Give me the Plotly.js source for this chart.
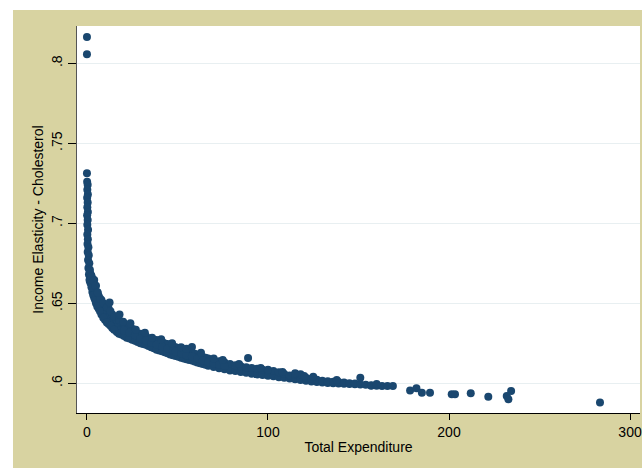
<!DOCTYPE html>
<html>
<head>
<meta charset="utf-8">
<script src="https://cdn.plot.ly/plotly-3.0.1.min.js"></script>
<style>
html,body{margin:0;padding:0;background:#fff;}
#chart{width:642px;height:468px;}
</style>
</head>
<body>
<div id="chart"></div>
<script>
// Total expenditure (x) values
const expenditure = [
  0.0, 0.0, 0.0,
  0.1, 0.4, 0.2, 0.5, 0.1, 0.4, 0.2, 0.5, 0.1, 0.4, 0.2, 0.6, 0.2, 0.5, 0.3, 0.8, 0.4, 1.0, 0.6, 1.3, 0.8, 1.6, 1.1, 2.0, 1.5, 2.6,
  2, 2, 3, 3, 3, 4, 4, 4, 5, 5, 5, 6.5, 6.5, 6.5, 8, 8, 8, 10, 10, 10, 12, 12, 12, 14, 14, 14,
  16.5, 16.5, 16.5, 19, 19, 19, 22, 22, 22, 25, 25, 25, 28, 28, 28, 31, 31, 31, 34, 34, 34,
  37, 37, 37, 40, 40, 40, 43, 43, 43, 46, 46, 46, 49, 49, 52, 52, 55, 55, 58, 58, 61, 61,
  64, 64, 67, 67, 70, 70, 73, 73, 76, 76, 79, 79, 82, 82, 85, 85, 88, 88, 91, 91, 94, 94,
  97, 97, 100, 100, 103, 103, 106, 106, 109, 109, 112, 112, 115, 115, 118, 118, 121, 121,
  124, 124, 127, 127, 130, 130, 133, 133, 136, 136, 139, 139, 142, 142, 145, 145, 148, 148,
  151, 151, 154, 157, 157, 160, 163, 166, 169,
  1.5, 1.5, 2.5, 2.5, 3.5, 3.5, 4.5, 4.5, 5.7, 5.7, 7.2, 7.2, 9, 9, 11, 11, 13, 13, 15, 15,
  17.7, 17.7, 20.5, 20.5, 23.5, 23.5, 26.5, 26.5, 29.5, 29.5, 32.5, 32.5, 35.5, 35.5,
  38.5, 38.5, 41.5, 41.5, 44.5, 44.5, 47.5, 47.5, 50.5, 50.5, 53.5, 53.5, 56.5, 56.5,
  59.5, 59.5, 62.5, 62.5, 65.5, 65.5,
  20.5, 23.5, 26.5, 29.5, 32.5, 35.5, 38.5, 41.5, 44.5, 47.5, 50.5, 53.5, 56.5, 59.5, 62.5, 65.5,
  49, 52, 55, 58, 61, 64, 67, 70, 73, 76,
  6, 12.5, 18, 20, 24, 27, 32, 36, 41, 47, 52, 55, 58, 63, 70, 75, 84, 89, 96, 100, 108, 115, 120, 125, 138, 160,
  178.5, 182, 185, 189.5, 201.5, 203.3, 212, 221.7, 231.9, 234.3, 232.8, 283.4
];
// Income elasticity - cholesterol (y) values
const elasticity = [
  0.8165, 0.8056, 0.7313,
  0.726, 0.724, 0.721, 0.718, 0.716, 0.713, 0.710, 0.707, 0.705, 0.702, 0.699, 0.696, 0.693, 0.690, 0.687, 0.685, 0.682, 0.680, 0.677, 0.675, 0.672, 0.671, 0.668, 0.668, 0.665, 0.665,
  0.6625, 0.668, 0.657, 0.661, 0.6655, 0.6535, 0.659, 0.6645, 0.650, 0.6555, 0.661, 0.6465, 0.6505, 0.6546, 0.643, 0.6475, 0.652, 0.6396, 0.644, 0.649, 0.637, 0.6415, 0.6465, 0.6345, 0.639, 0.643,
  0.632, 0.6358, 0.6396, 0.6305, 0.634, 0.638, 0.6285, 0.632, 0.6358, 0.6272, 0.6305, 0.634, 0.6258, 0.6284, 0.631, 0.6245, 0.6268, 0.629, 0.6233, 0.6255, 0.628,
  0.6218, 0.6243, 0.6268, 0.6205, 0.6232, 0.6258, 0.6193, 0.622, 0.6248, 0.618, 0.6207, 0.6235, 0.617, 0.6225, 0.616, 0.6215, 0.615, 0.620, 0.6142, 0.6192, 0.613, 0.6178,
  0.612, 0.6164, 0.611, 0.6155, 0.6102, 0.6145, 0.6094, 0.6138, 0.6087, 0.613, 0.608, 0.6121, 0.6077, 0.6113, 0.607, 0.6106, 0.6065, 0.610, 0.606, 0.6096, 0.6055, 0.609,
  0.6051, 0.6085, 0.6047, 0.6078, 0.6043, 0.6077, 0.6038, 0.6068, 0.6034, 0.6058, 0.603, 0.6048, 0.6025, 0.6052, 0.602, 0.6056, 0.6015, 0.6035,
  0.6011, 0.6028, 0.6008, 0.6022, 0.6004, 0.6016, 0.6002, 0.6013, 0.600, 0.601, 0.5998, 0.6007, 0.5997, 0.6004, 0.5995, 0.600, 0.5994, 0.5998,
  0.5992, 0.6035, 0.599, 0.5987, 0.5984, 0.5985, 0.5983, 0.5982, 0.5982,
  0.664, 0.670, 0.660, 0.667, 0.655, 0.664, 0.652, 0.661, 0.648, 0.657, 0.645, 0.653, 0.641, 0.650, 0.638, 0.6475, 0.636, 0.645, 0.6335, 0.6415,
  0.631, 0.6395, 0.6295, 0.637, 0.628, 0.635, 0.6265, 0.6335, 0.625, 0.631, 0.624, 0.6295, 0.6225, 0.628,
  0.621, 0.627, 0.620, 0.626, 0.6187, 0.6245, 0.6175, 0.6235, 0.6165, 0.622, 0.6155, 0.621, 0.6146, 0.6198,
  0.6136, 0.6185, 0.6125, 0.6172, 0.6115, 0.616,
  0.633, 0.6315, 0.630, 0.628, 0.6268, 0.6252, 0.624, 0.623, 0.6216, 0.6205, 0.6192, 0.6182, 0.6172, 0.616, 0.6148, 0.6138,
  0.6197, 0.6187, 0.6175, 0.6167, 0.6154, 0.6142, 0.6132, 0.6123, 0.6116, 0.6108,
  0.6565, 0.6505, 0.643, 0.6385, 0.6375, 0.6335, 0.6315, 0.6285, 0.6275, 0.625, 0.6225, 0.6215, 0.6227, 0.619, 0.6155, 0.6145, 0.612, 0.6158, 0.6095, 0.6085, 0.607, 0.6062, 0.6045, 0.604, 0.602, 0.5995,
  0.5955, 0.5968, 0.5941, 0.5941, 0.5931, 0.5931, 0.5937, 0.5916, 0.5921, 0.5952, 0.590, 0.5879
];
const xTickVals = [0, 100, 200, 300];
const xTickText = ['0', '100', '200', '300'];
const yTickVals = [0.6, 0.65, 0.7, 0.75, 0.8];
const yTickText = ['.6', '.65', '.7', '.75', '.8'];

const trace = {
  type: 'scatter',
  mode: 'markers',
  x: expenditure,
  y: elasticity,
  marker: {color: '#1a476f', size: 8, line: {width: 0}},
  hoverinfo: 'x+y'
};

const font = {family: 'Liberation Sans, Arial, sans-serif', size: 14, color: '#000'};

const layout = {
  width: 642, height: 468,
  margin: {l: 77, r: 2, t: 26, b: 55, pad: 0},
  paper_bgcolor: '#ffffff',
  plot_bgcolor: '#ffffff',
  showlegend: false,
  font: font,
  xaxis: {
    range: [-5.5, 305.5],
    tickvals: xTickVals, ticktext: xTickText,
    ticks: 'outside', ticklen: 6, tickwidth: 1, tickcolor: '#000',
    showline: true, linecolor: '#000', linewidth: 1,
    showgrid: false, zeroline: false,
    tickfont: font,
    title: {text: 'Total Expenditure', font: font, standoff: 3}
  },
  yaxis: {
    range: [0.5814, 0.8233],
    tickvals: yTickVals, ticktext: yTickText,
    tickangle: -90,
    ticks: 'outside', ticklen: 8, tickwidth: 1, tickcolor: '#000',
    showline: true, linecolor: '#555', linewidth: 1,
    showgrid: true, gridcolor: '#e8eff1', gridwidth: 1,
    zeroline: false,
    tickfont: font,
    title: {text: 'Income Elasticity - Cholesterol', font: font, standoff: 2}
  },
  shapes: [
    {type: 'rect', xref: 'paper', yref: 'paper', x0: -0.1137, x1: 1.01, y0: -0.2, y1: 1.0413,
     fillcolor: '#d8d3a1', line: {width: 0}, layer: 'below'},
    {type: 'rect', xref: 'paper', yref: 'paper', x0: 0, x1: 1, y0: 0, y1: 1,
     fillcolor: '#ffffff', line: {width: 0}, layer: 'below'}
  ]
};

Plotly.newPlot('chart', [trace], layout, {displayModeBar: false, staticPlot: true});
</script>
</body>
</html>
